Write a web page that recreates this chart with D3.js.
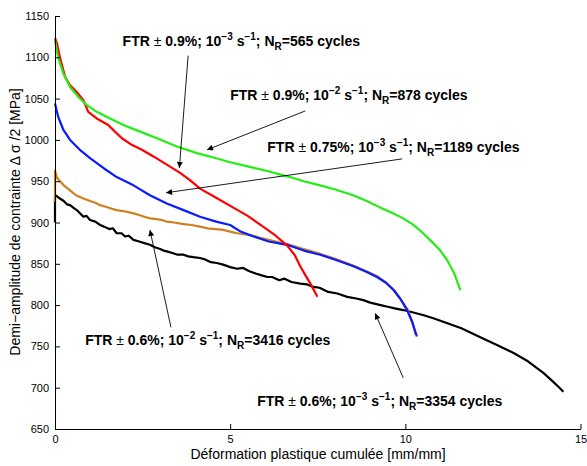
<!DOCTYPE html>
<html><head><meta charset="utf-8">
<script src="https://cdn.jsdelivr.net/npm/d3@7"></script>
<style>body{margin:0;background:#fff}svg{display:block}text{font-family:"Liberation Sans",Arial,Helvetica,sans-serif}</style>
</head><body>
<script>
// ---- data ----
const xTicks = [0, 5, 10, 15];
const yTicks = [650, 700, 750, 800, 850, 900, 950, 1000, 1050, 1100, 1150];

const greenSeries = [[0,1121],[0.05,1108],[0.09,1100],[0.24,1080],[0.43,1064],[0.67,1052],[0.91,1042],[1.19,1034],[1.57,1026],[1.95,1018],[2.43,1010],[2.91,1002],[3.48,992],[4.05,984],[4.5,979],[5.0,973],[5.5,968],[6.0,963],[6.71,955],[7.1,950],[7.57,945],[8.0,940],[8.51,933],[8.9,926],[9.29,918],[9.6,912],[9.94,905],[10.2,898],[10.43,890],[10.8,875],[11.0,866],[11.2,854],[11.4,838],[11.57,818]];
const redSeries = [[0,1123],[0.05,1118],[0.14,1100],[0.29,1076],[0.43,1066],[0.62,1058],[0.81,1048],[0.95,1034],[1.19,1026],[1.52,1018],[1.71,1010],[1.91,1002],[2.19,994],[2.48,988],[2.81,980],[3.19,970],[3.57,960],[3.86,951],[4.14,941],[4.6,930],[5.09,918],[5.5,908],[5.94,895],[6.3,884],[6.63,872],[6.85,860],[7.0,847],[7.15,836],[7.29,826],[7.49,810]];
const blueSeries = [[0,1044],[0.09,1028],[0.24,1012],[0.43,1000],[0.71,988],[1.0,978],[1.38,966],[1.76,955],[2.24,945],[2.71,933],[3.19,923],[3.67,915],[4.14,907],[4.6,901],[5.0,897],[5.3,889],[5.67,883],[6.1,877],[6.62,873],[7.1,866],[7.57,861],[8.0,855],[8.52,847],[8.9,840],[9.19,834],[9.45,827],[9.67,818],[9.85,808],[10.05,794],[10.2,779],[10.33,762]];
const orangeSeries = [[0,925],[0,963],[0.05,955],[0.14,950],[0.25,945],[0.43,939],[0.6,933],[0.81,929],[1.0,926],[1.15,924],[1.29,921],[1.45,919],[1.6,917],[1.76,915],[1.9,914],[2.05,913],[2.24,911],[2.4,909],[2.55,907],[2.71,905],[2.9,904],[3.05,903],[3.19,901],[3.4,900],[3.67,898],[3.9,897],[4.14,895],[4.35,893],[4.6,892],[4.8,891],[5.0,889],[5.2,887],[5.4,886],[5.67,884],[5.9,881],[6.3,877],[6.63,874],[7.0,869],[7.57,862],[8.0,856],[8.51,848],[9.0,839],[9.2,835],[9.5,825],[9.66,819],[9.85,808],[10.06,795],[10.2,780],[10.29,764]];
const blackSeries = [[0,900],[0,933],[0.05,932],[0.14,929],[0.25,926],[0.34,922],[0.43,921],[0.55,917],[0.65,914],[0.81,907],[0.9,908],[1.0,903],[1.15,901],[1.29,897],[1.4,895],[1.55,892],[1.65,893],[1.76,887],[1.9,887],[2.0,883],[2.1,884],[2.24,879],[2.4,877],[2.55,875],[2.71,873],[2.85,870],[3.0,868],[3.1,866],[3.19,865],[3.35,863],[3.5,861],[3.67,861],[3.8,859],[3.95,858],[4.14,857],[4.3,855],[4.45,852],[4.62,851],[4.8,849],[5.0,846],[5.2,844],[5.37,845],[5.55,841],[5.75,838],[5.9,836],[6.06,834],[6.2,834],[6.4,830],[6.55,832],[6.75,828],[7.0,826],[7.2,825],[7.37,822],[7.55,821],[7.8,816],[8.06,814],[8.34,810],[8.6,808],[8.8,806],[9.0,803],[9.29,800],[9.5,798],[9.7,796],[9.94,794],[10.23,791],[10.5,788],[10.8,784],[11.2,778],[11.6,772],[12.14,761],[12.6,752],[13.09,742],[13.5,732],[13.94,718],[14.2,708],[14.4,700],[14.51,695]];

const seriesList = [
  {name:"black", color:"#000000", data:blackSeries},
  {name:"orange", color:"#cf7f1f", data:orangeSeries},
  {name:"blue", color:"#0a1cff", data:blueSeries},
  {name:"red", color:"#ff0000", data:redSeries},
  {name:"green", color:"#22ee11", data:greenSeries}
];

// annotations: label parts, text baseline start (data coords), arrow tail/head (data coords)
const annStrain = ["0.9%", "0.9%", "0.75%", "0.6%", "0.6%"];
const annExp = ["−3", "−2", "−3", "−2", "−3"];
const annCycles = ["565", "878", "1189", "3416", "3354"];
const annTextPos = [[1.93,1114], [5.0,1048], [6.06,985], [0.86,752], [5.77,678]];
const annTail = [[3.8,1102], [7.14,1035], [9.91,977], [3.31,773], [9.94,712]];
const annHead = [[3.55,966], [4.34,988], [3.17,936], [2.71,891], [9.14,790]];

// ---- chart ----
const W = 587, H = 466;
const x = d3.scaleLinear().domain([0, 15]).range([55, 580.5]);
const y = d3.scaleLinear().domain([650, 1150]).range([429, 16]);

const svg = d3.select("body").append("svg").attr("width", W).attr("height", H);

svg.append("defs").append("marker")
  .attr("id", "ah").attr("viewBox", "0 0 10 10").attr("refX", 10).attr("refY", 5)
  .attr("markerWidth", 9).attr("markerHeight", 6).attr("markerUnits", "userSpaceOnUse")
  .attr("orient", "auto")
  .append("path").attr("d", "M0,0L10,5L0,10z").attr("fill", "#000");

const line = d3.line().x(d => x(d[0])).y(d => y(d[1]));
svg.append("g").selectAll("path").data(seriesList).join("path")
  .attr("d", d => line(d.data)).attr("fill", "none")
  .attr("stroke", d => d.color).attr("stroke-width", 2.2).attr("stroke-linejoin", "round");

// axes
const xAxis = d3.axisBottom(x).tickValues(xTicks).tickSizeInner(-5).tickSizeOuter(0).tickPadding(6).tickFormat(d3.format("d"));
const yAxis = d3.axisLeft(y).tickValues(yTicks).tickSizeInner(-5).tickSizeOuter(0).tickPadding(6).tickFormat(d3.format("d"));
const gx = svg.append("g").attr("transform", "translate(0,429)").call(xAxis);
const gy = svg.append("g").attr("transform", "translate(55,0)").call(yAxis);
[gx, gy].forEach(g => {
  g.selectAll("path.domain").attr("stroke", "#000").attr("stroke-width", 1);
  g.selectAll("line").attr("stroke", "#000");
  g.selectAll("text").attr("font-size", 11).attr("fill", "#000")
    .attr("font-family", "'Liberation Sans',Arial,sans-serif");
});

svg.append("text").attr("x", 318).attr("y", 459).attr("text-anchor", "middle")
  .attr("font-size", 14).text("Déformation plastique cumulée [mm/mm]");
svg.append("text").attr("transform", "translate(20,222) rotate(-90)").attr("text-anchor", "middle")
  .attr("font-size", 14).text("Demi−amplitude de contrainte Δ σ /2 [MPa]");

// annotations
const ann = svg.append("g");
annStrain.forEach((s, i) => {
  ann.append("line")
    .attr("x1", x(annTail[i][0])).attr("y1", y(annTail[i][1]))
    .attr("x2", x(annHead[i][0])).attr("y2", y(annHead[i][1]))
    .attr("stroke", "#000").attr("stroke-width", 0.9).attr("marker-end", "url(#ah)");
  const t = ann.append("text").attr("x", x(annTextPos[i][0])).attr("y", y(annTextPos[i][1]))
    .attr("font-size", 14).attr("font-weight", "bold");
  t.append("tspan").text("FTR ");
  t.append("tspan").attr("font-weight", "normal").text("±");
  t.append("tspan").text(" " + s + "; 10");
  t.append("tspan").attr("font-size", 10).attr("dy", -6).text(annExp[i]);
  t.append("tspan").attr("dy", 6).text(" s");
  t.append("tspan").attr("font-size", 10).attr("dy", -6).text("−1");
  t.append("tspan").attr("dy", 6).text("; N");
  t.append("tspan").attr("font-size", 10).attr("dy", 4).text("R");
  t.append("tspan").attr("dy", -4).text("=" + annCycles[i] + " cycles");
});
</script>
</body></html>
